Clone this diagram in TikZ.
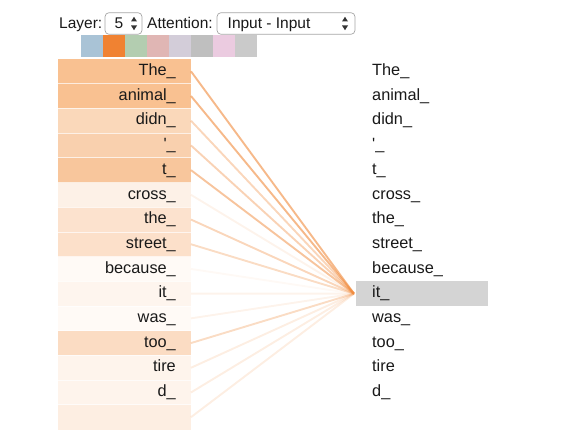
\documentclass[tikz,border=0pt]{standalone}
\usepackage{fontspec}
\setmainfont{Liberation Sans}
\begin{document}
\begin{tikzpicture}[x=1pt,y=-1pt,
  tok/.style={inner sep=0pt,text height=11.3pt,text depth=3pt,font=\fontsize{16.3}{18}\selectfont,text=black!90},
  hdr/.style={inner sep=0pt,font=\fontsize{15.5}{18}\selectfont,text=black!90},
  selbox/.style={draw=black!35,line width=0.7pt,rounded corners=4pt,fill=white},
  cell/.style={draw=white,draw opacity=0.7,line width=0.8pt},
  att/.style={draw=attor,line width=1.9pt},
  sw/.style={draw=none}]
\definecolor{attor}{HTML}{F08A3C}
\definecolor{hl}{HTML}{D4D4D4}
\useasboundingbox (0,0) rectangle (573,444);
% header
\node[hdr,anchor=base west] (layerlbl) at (59,29) {Layer:};
\draw[selbox] (105,12.7) rectangle (142,34.3);
\node[hdr,anchor=base west] (layerval) at (114.5,29) {5};
\fill[black!80] (131,21.5) -- (137,21.5) -- (134,16.8) -- cycle;
\fill[black!80] (131,25.5) -- (137,25.5) -- (134,30.2) -- cycle;
\node[hdr,anchor=base west] (attlbl) at (147,29) {Attention:};
\draw[selbox] (217,12.7) rectangle (355,34.3);
\node[hdr,anchor=base west] (attval) at (227.5,29) {Input - Input};
\fill[black!80] (342,21.5) -- (348,21.5) -- (345,16.8) -- cycle;
\fill[black!80] (342,25.5) -- (348,25.5) -- (345,30.2) -- cycle;
% swatches
\foreach \c [count=\i from 0] in {A9C3D6,F08232,B3CDB0,E0B6B4,D3CDD9,BFBFBF,EBCBE0,CACACA}{
  \definecolor{swc}{HTML}{\c}
  \fill[swc] ({80.7+22*\i},35) rectangle ({80.7+22*(\i+1)},57);
}
% left cells
\foreach \c [count=\i from 0] in {F9C191,F9C191,FAD8BA,F9D0AE,F8C69C,FDF1E7,FCE2CE,FCE0CA,FFFAF6,FEF5EE,FFFAF6,FBDCC3,FEF4EC,FEF4EC,FDEEE2}{
  \definecolor{cc}{HTML}{\c}
  \fill[cc] (58,{59+24.7*\i}) rectangle (191,{59+24.7*(\i+1)});
}
\foreach \i in {1,...,14}{
  \draw[cell] (58,{59+24.7*\i}) -- (191,{59+24.7*\i});
}
% highlight on right
\fill[hl] (356,{59+24.7*9}) rectangle (488,{59+24.7*10});
\coordinate (target) at (354,{59+24.7*9.5});
% tokens
\foreach \t [count=\i from 0] in {The\_,animal\_,didn\_,\textquotesingle\_,t\_,cross\_,the\_,street\_,because\_,it\_,was\_,too\_,tire,d\_,{}}{
  \node[tok,anchor=east] (L\i) at (176,{71.35+24.7*\i}) {\t};
  \coordinate (S\i) at (191,{71.35+24.7*\i});
}
\foreach \t [count=\i from 0] in {The\_,animal\_,didn\_,\textquotesingle\_,t\_,cross\_,the\_,street\_,because\_,it\_,was\_,too\_,tire,d\_}{
  \node[tok,anchor=west] (R\i) at (372,{71.35+24.7*\i}) {\t};
}
% attention lines
\foreach \o [count=\i from 0] in {0.6,0.6,0.35,0.38,0.5,0.1,0.35,0.3,0.05,0.1,0.1,0.3,0.15,0.15,0.15}{
  \draw[att,draw opacity=\o] (S\i) -- (target);
}
\end{tikzpicture}
\end{document}
